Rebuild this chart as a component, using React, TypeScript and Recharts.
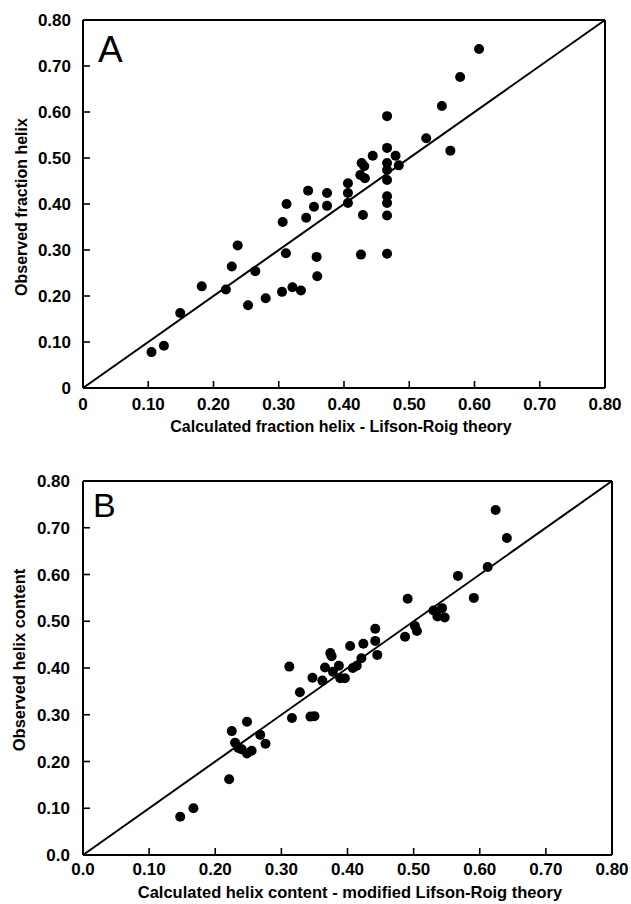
import React from 'react';
import { ScatterChart, Scatter, XAxis, YAxis, ReferenceLine } from 'recharts';

const FONT = '"Liberation Sans", Arial, Helvetica, sans-serif';

// shared axis ticks
const TICKS = [0, 0.1, 0.2, 0.3, 0.4, 0.5, 0.6, 0.7, 0.8];
const A_LABELS = ['0', '0.10', '0.20', '0.30', '0.40', '0.50', '0.60', '0.70', '0.80'];
const B_LABELS = ['0.0', '0.10', '0.20', '0.30', '0.40', '0.50', '0.60', '0.70', '0.80'];
const DIAGONAL = [{ x: 0, y: 0 }, { x: 0.8, y: 0.8 }];

// Panel A: calculated (Lifson-Roig) vs observed fraction helix
const A_CALC = [
  0.105, 0.124, 0.149, 0.182, 0.219, 0.228, 0.237, 0.253, 0.264, 0.280,
  0.305, 0.306, 0.311, 0.312, 0.321, 0.334, 0.342, 0.345, 0.354, 0.358,
  0.359, 0.374, 0.374, 0.406, 0.406, 0.406, 0.427, 0.431, 0.425, 0.432,
  0.429, 0.426, 0.444, 0.466, 0.466, 0.466, 0.466, 0.466, 0.466, 0.466,
  0.466, 0.466, 0.479, 0.484, 0.526, 0.550, 0.563, 0.578, 0.607,
];
const A_OBS = [
  0.078, 0.092, 0.163, 0.221, 0.214, 0.264, 0.310, 0.180, 0.254, 0.195,
  0.209, 0.361, 0.293, 0.400, 0.219, 0.212, 0.370, 0.429, 0.394, 0.285,
  0.243, 0.424, 0.396, 0.445, 0.424, 0.402, 0.489, 0.482, 0.463, 0.456,
  0.376, 0.290, 0.505, 0.591, 0.522, 0.489, 0.474, 0.452, 0.417, 0.402,
  0.375, 0.292, 0.505, 0.484, 0.543, 0.613, 0.516, 0.676, 0.737,
];

// Panel B: calculated (modified Lifson-Roig) vs observed helix content
const B_CALC = [
  0.147, 0.167, 0.221, 0.225, 0.230, 0.235, 0.240, 0.248, 0.255, 0.248,
  0.268, 0.276, 0.312, 0.316, 0.328, 0.344, 0.350, 0.347, 0.362, 0.366,
  0.374, 0.376, 0.378, 0.387, 0.389, 0.396, 0.404, 0.408, 0.414, 0.421,
  0.424, 0.442, 0.442, 0.445, 0.487, 0.491, 0.502, 0.505, 0.530, 0.543,
  0.536, 0.547, 0.567, 0.591, 0.612, 0.624, 0.641,
];
const B_OBS = [
  0.082, 0.100, 0.162, 0.265, 0.240, 0.229, 0.226, 0.217, 0.223, 0.285,
  0.257, 0.238, 0.403, 0.293, 0.348, 0.296, 0.297, 0.379, 0.373, 0.401,
  0.432, 0.425, 0.392, 0.405, 0.378, 0.378, 0.447, 0.400, 0.405, 0.421,
  0.452, 0.484, 0.458, 0.428, 0.467, 0.548, 0.490, 0.479, 0.523, 0.528,
  0.510, 0.508, 0.597, 0.550, 0.616, 0.738, 0.678,
];

const axisLine = { stroke: '#000', strokeWidth: 2 };
const tickLine = { stroke: '#000', strokeWidth: 1.6 };
const tickFont = { fill: '#000', fontSize: 17, fontWeight: 'bold', fontFamily: FONT };

const Dot = (p: any) => <circle cx={p.cx} cy={p.cy} r={5} fill="#000" />;

interface PanelProps {
  top: number;
  height: number;
  offTop: number;
  offRight: number;
  offBottom: number;
  xs: number[];
  ys: number[];
  labels: string[];
  xGap: number;
  yGap: number;
}

const Panel = ({ top, height, offTop, offRight, offBottom, xs, ys, labels, xGap, yGap }: PanelProps) => {
  const data = xs.map((x, i) => ({ x, y: ys[i] }));
  const fmt = (v: number) => labels[Math.round(v * 10)];
  return (
    <div style={{ position: 'absolute', left: 0, top, width: 631, height }}>
      <ScatterChart
        width={631}
        height={height}
        margin={{ top: offTop - 1, right: offRight - 1, bottom: 0, left: 0 }}
      >
        <XAxis xAxisId="b" type="number" dataKey="x" domain={[0, 0.8]} ticks={TICKS} interval={0}
          height={offBottom} tickSize={-7} tickMargin={7 + xGap} tickFormatter={fmt}
          axisLine={axisLine} tickLine={tickLine} tick={tickFont} />
        <XAxis xAxisId="t" orientation="top" type="number" dataKey="x" domain={[0, 0.8]} ticks={TICKS}
          interval={0} height={1} tickSize={-7} tickFormatter={() => ''}
          axisLine={axisLine} tickLine={tickLine} tick={tickFont} />
        <YAxis yAxisId="l" type="number" dataKey="y" domain={[0, 0.8]} ticks={TICKS} interval={0}
          width={83} tickSize={-7} tickMargin={7 + yGap} tickFormatter={fmt}
          axisLine={axisLine} tickLine={tickLine} tick={tickFont} />
        <YAxis yAxisId="r" orientation="right" type="number" dataKey="y" domain={[0, 0.8]} ticks={TICKS}
          interval={0} width={1} tickSize={-7} tickFormatter={() => ''}
          axisLine={axisLine} tickLine={tickLine} tick={tickFont} />
        <ReferenceLine xAxisId="b" yAxisId="l" segment={DIAGONAL} stroke="#000" strokeWidth={2} />
        <Scatter xAxisId="b" yAxisId="l" data={data} shape={Dot} isAnimationActive={false} />
      </ScatterChart>
    </div>
  );
};

export default function App() {
  const title = { fontFamily: FONT, fontWeight: 'bold', fill: '#000' } as const;
  return (
    <div style={{ position: 'absolute', left: 0, top: 0, width: 631, height: 904, background: '#fff', overflow: 'hidden' }}>
      <Panel top={0} height={440} offTop={20} offRight={26} offBottom={52}
        xs={A_CALC} ys={A_OBS} labels={A_LABELS} xGap={10} yGap={12} />
      <Panel top={440} height={464} offTop={41} offRight={19} offBottom={49}
        xs={B_CALC} ys={B_OBS} labels={B_LABELS} xGap={8} yGap={13} />

      {/* titles and panel letters */}
      <svg width={631} height={904} style={{ position: 'absolute', left: 0, top: 0, pointerEvents: 'none' }}>
        <text x={98} y={62} fontSize={37} fontFamily={FONT} fill="#000">A</text>
        <text x={93} y={517} fontSize={34} fontFamily={FONT} fill="#000">B</text>

        <text {...title} x={27} y={207} fontSize={16} textAnchor="middle" transform="rotate(-90 27 207)">
          Observed fraction helix
        </text>
        <text {...title} x={341} y={432} fontSize={16} textAnchor="middle">
          Calculated fraction helix - Lifson-Roig theory
        </text>

        <text {...title} x={25} y={660} fontSize={16.5} textAnchor="middle" transform="rotate(-90 25 660)">
          Observed helix content
        </text>
        <text {...title} x={350} y={898} fontSize={16.5} textAnchor="middle">
          Calculated helix content - modified Lifson-Roig theory
        </text>
      </svg>
    </div>
  );
}
